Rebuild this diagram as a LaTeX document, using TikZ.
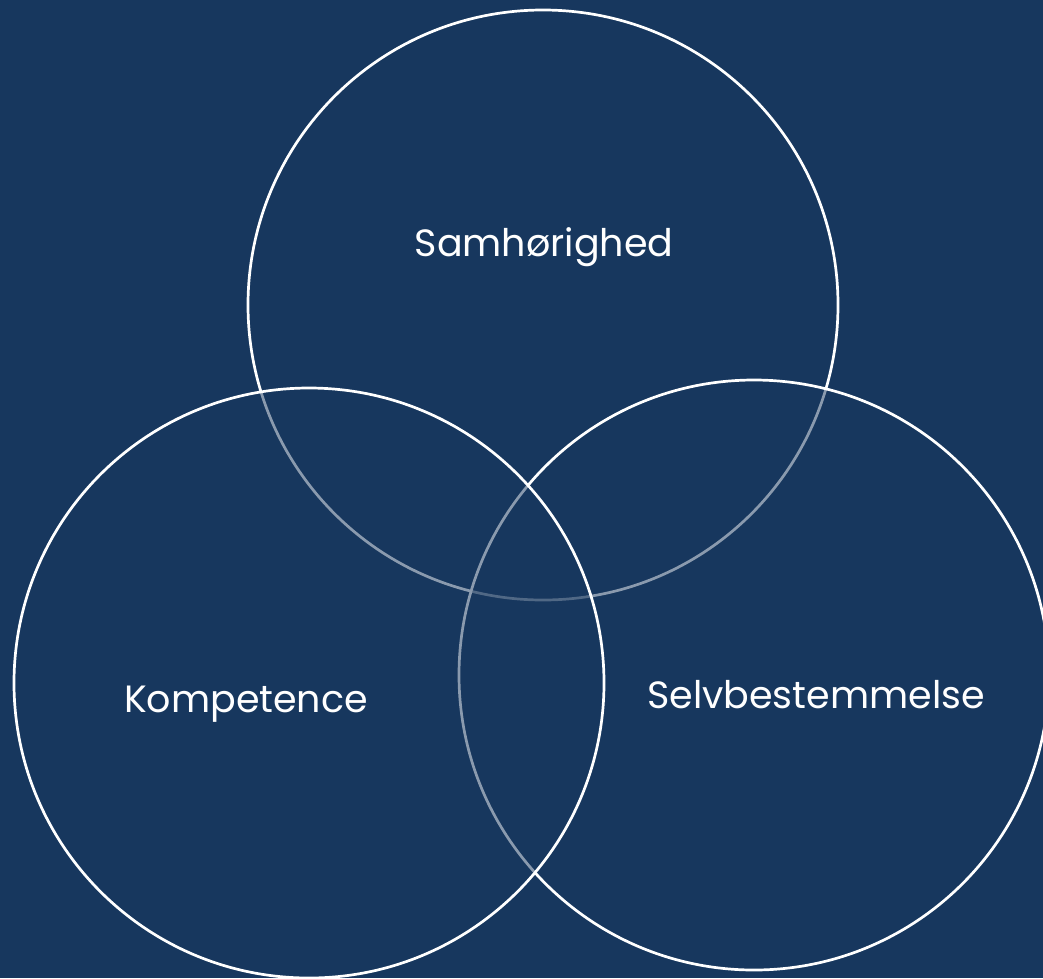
\documentclass[tikz,border=0pt]{standalone}
\usepackage{fontspec}
\setmainfont{Poppins}
\definecolor{bg}{HTML}{17375E}
\begin{document}
\begin{tikzpicture}[x=1pt,y=-1pt,
  ring/.style={circle,draw=white,line width=2.7pt,fill=bg,fill opacity=0.5,draw opacity=1,minimum size=590pt,inner sep=0pt},
  label/.style={text=white,font=\fontsize{38}{44}\selectfont,inner sep=0pt}]
\fill[bg] (0,0) rectangle (1043,978);
\useasboundingbox (0,0) rectangle (1043,978);
\node[ring] (top) at (543,305) {};
\node[ring] (right) at (754,675) {};
\node[ring] (left) at (309,683) {};
\node[label] (t1) at (544,247) {Samhørighed};
\node[label] (t2) at (246,704) {Kompetence};
\node[label] (t3) at (816,695) {Selvbestemmelse};
\end{tikzpicture}
\end{document}
